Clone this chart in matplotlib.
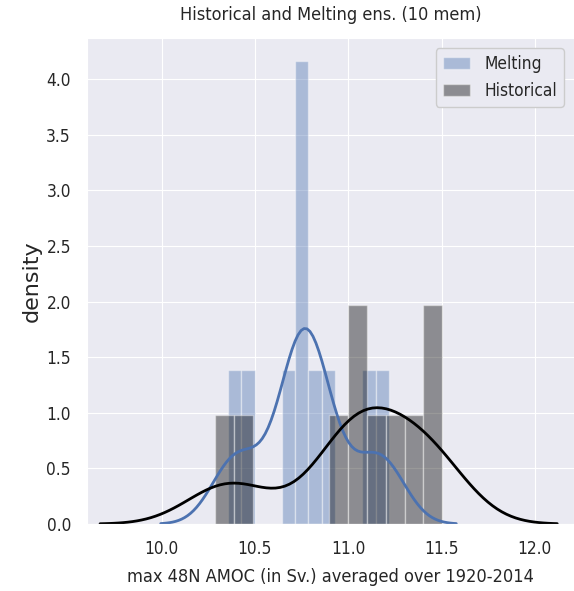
import numpy as np
import matplotlib
matplotlib.use("Agg")
import matplotlib.pyplot as plt
import seaborn as sns

# max 48N AMOC (Sv) averaged over 1920-2014, one value per ensemble member
melting = [10.355, 10.46, 10.68, 10.74, 10.75, 10.77, 10.82, 10.89, 11.11, 11.219]
historical = [10.285, 10.45, 10.92, 11.01, 11.04, 11.12, 11.22, 11.33, 11.45, 11.505]
series_names = ["Melting", "Historical"]
yticks = [0.0, 0.5, 1.0, 1.5, 2.0, 2.5, 3.0, 3.5, 4.0]
xticks = [10.0, 10.5, 11.0, 11.5, 12.0]

# kde bandwidths (Sv)
bw_melting = 0.12
bw_historical = 0.205

sns.set_style("darkgrid")
plt.rcParams["font.family"] = ["DejaVu Sans"]
plt.rcParams["font.stretch"] = "condensed"


def kde_curve(data, bw, cut=3, gridsize=100):
    data = np.asarray(data)
    grid = np.linspace(data.min() - cut * bw, data.max() + cut * bw, gridsize)
    z = (grid[:, None] - data[None, :]) / bw
    dens = np.exp(-0.5 * z ** 2).sum(axis=1) / (len(data) * bw * np.sqrt(2 * np.pi))
    return grid, dens


fig = plt.figure(figsize=(5.74, 5.91), dpi=100)
ax = fig.add_axes([87 / 574, 1 - 524 / 591, 1 - 87 / 574, (524 - 38) / 591])

blue = "#4C72B0"
ax.hist(melting, bins=12, density=True, color=blue, alpha=0.4,
        edgecolor="white", linewidth=1, label=series_names[0])
ax.hist(historical, bins=12, density=True, color="black", alpha=0.4,
        edgecolor="white", linewidth=1, label=series_names[1])

gx, gy = kde_curve(melting, bw_melting)
ax.plot(gx, gy, color=blue, lw=2)
gx, gy = kde_curve(historical, bw_historical)
ax.plot(gx, gy, color="black", lw=2)

ax.set_xlim(9.6, 12.21)
ax.set_ylim(0, 4.37)
ax.set_xticks(xticks)
ax.set_yticks(yticks)
ax.tick_params(labelsize=12.4, pad=8)
ax.set_xlabel("max 48N AMOC (in Sv.) averaged over 1920-2014", fontsize=13.1, labelpad=7)
ax.set_ylabel("density", fontsize=16, fontstretch="normal", labelpad=3)
ax.set_title("Historical and Melting ens. (10 mem)", fontsize=13, pad=13)
leg = ax.legend(loc="upper right", fontsize=12.4, frameon=True,
                facecolor="#EAEAF2", edgecolor="#cccccc", framealpha=1,
                borderaxespad=0.6, handlelength=1.6)

fig.savefig("out.png", dpi=100)
